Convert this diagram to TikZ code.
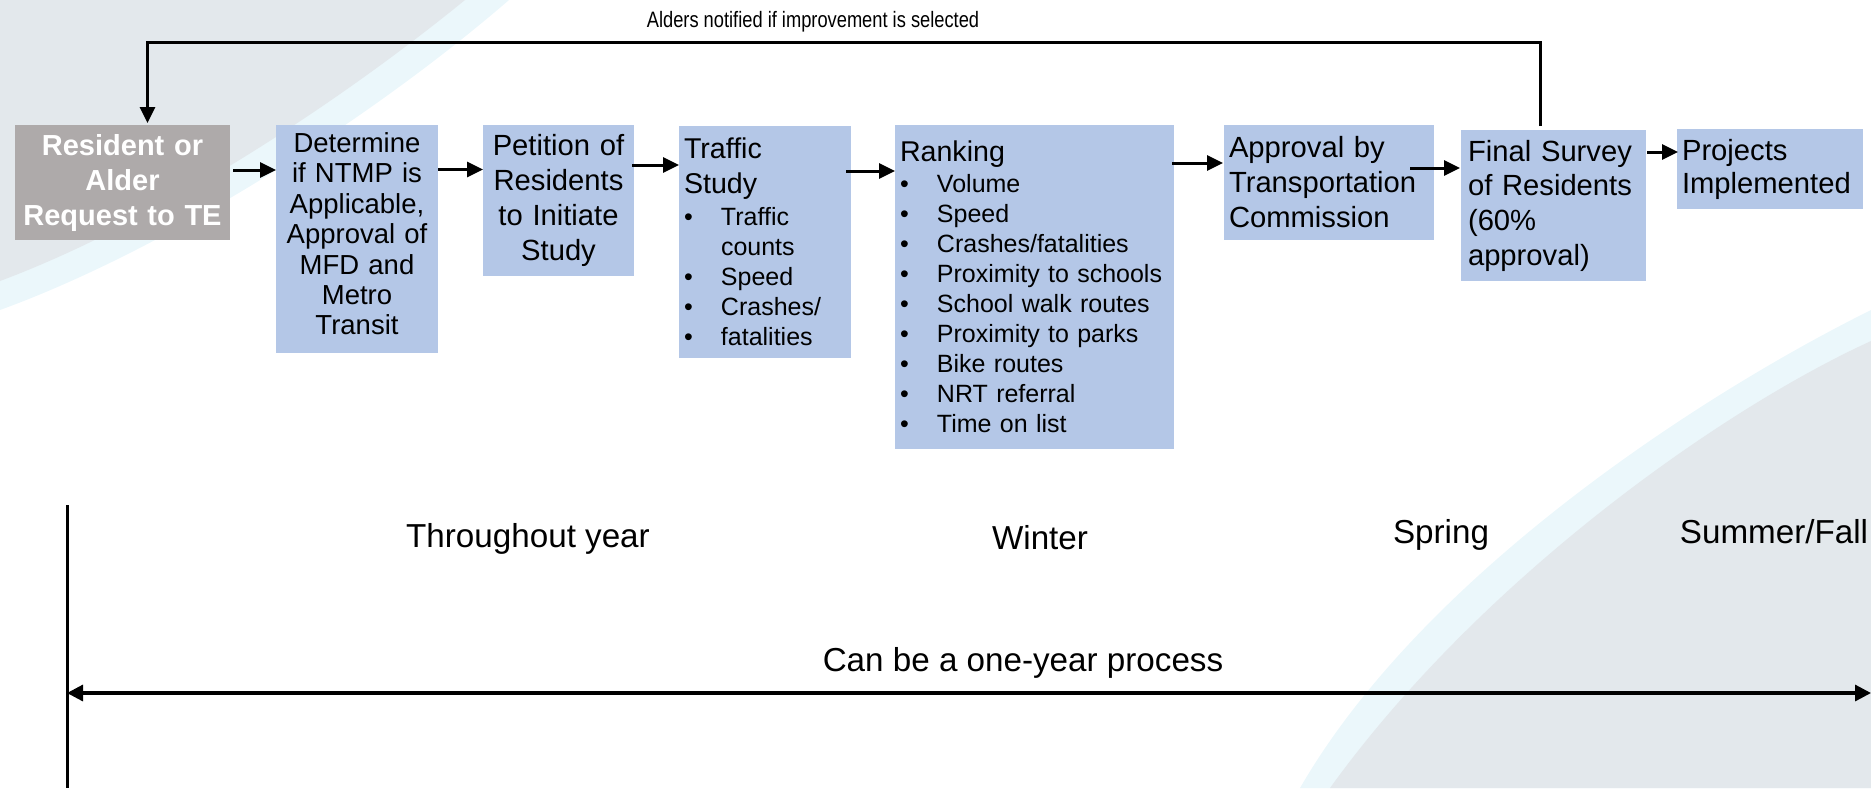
\documentclass[tikz,border=0pt]{standalone}
\usepackage{fontspec}
\setmainfont{Liberation Sans}
\usepackage{graphicx}
\usetikzlibrary{arrows.meta,calc}
\definecolor{boxblue}{HTML}{B4C7E7}
\definecolor{boxgray}{HTML}{AEAAAA}
\definecolor{bggray}{HTML}{E3E8EC}
\definecolor{bgcyan}{HTML}{EBF7FB}
\newcommand\bul{\makebox[18.5pt][l]{\textbullet}}
\begin{document}
\begin{tikzpicture}[x=0.5pt,y=-0.5pt,
  stepbox/.style={fill=boxblue, draw=none, anchor=north west, inner xsep=2.5pt, inner ysep=1pt, outer sep=0pt},
  arr/.style={line width=1.5pt, -{Triangle[length=8pt,width=7.5pt]}},
  maintext/.style={font=\fontsize{14.6}{17.5}\selectfont},
  bullets/.style={font=\fontsize{12.5}{15}\selectfont},
  season/.style={font=\fontsize{16.6}{20}\selectfont, anchor=base, inner sep=0pt}]
\useasboundingbox (0,0) rectangle (1871,788);
% background swooshes
\begin{scope}
\clip (0,0) rectangle (1871,788);
\fill[bgcyan] (0,0) -- (509,0) .. controls (370,120) and (165,250) .. (0,310) -- cycle;
\fill[bggray] (0,0) -- (465,0) .. controls (330,110) and (150,225) .. (0,281) -- cycle;
\fill[bgcyan] (1871,310) .. controls (1690,400) and (1420,580) .. (1300,788) -- (1871,788) -- cycle;
\fill[bggray] (1871,341) .. controls (1720,410) and (1480,580) .. (1330,788) -- (1871,788) -- cycle;
\end{scope}

% boxes
\node[stepbox, fill=boxgray, minimum width=107.5pt, minimum height=57.5pt, text width=102.5pt, align=center, text=white, font=\bfseries\fontsize{14.5}{17.5}\selectfont] (res) at (15,125) {Resident or\\Alder\\Request to TE};
\node[stepbox, minimum width=81pt, minimum height=114pt, text width=76pt, align=center, font=\fontsize{13.75}{15.2}\selectfont] (det) at (276,125) {Determine\\if NTMP is\\Applicable,\\Approval of\\MFD and\\Metro\\Transit\\[-10pt]\mbox{}};
\node[stepbox, maintext, minimum width=75.5pt, minimum height=75.5pt, text width=70.5pt, align=center] (pet) at (483,125) {Petition of\\Residents\\to Initiate\\Study};
\node[stepbox, bullets, minimum width=86pt, minimum height=116pt, text width=81pt, align=left] (trf) at (679,126) {{\fontsize{14.3}{15}\selectfont Traffic}\\[2.5pt]{\fontsize{14.3}{15}\selectfont Study}\\[1pt]\bul Traffic\\\hspace*{18.5pt}counts\\\bul Speed\\\bul Crashes/\\\bul fatalities};
\node[stepbox, bullets, minimum width=139.5pt, minimum height=162pt, text width=134.5pt, align=left] (rnk) at (895,125) {{\fontsize{14.3}{15}\selectfont Ranking}\\[0.5pt]\bul Volume\\\bul Speed\\\bul Crashes/fatalities\\\bul Proximity to schools\\\bul School walk routes\\\bul Proximity to parks\\\bul Bike routes\\\bul NRT referral\\\bul Time on list};
\node[stepbox, maintext, minimum width=105pt, minimum height=57.5pt, text width=100pt, align=left] (apr) at (1224,125) {Approval by\\Transportation\\Commission};
\node[stepbox, font=\fontsize{14.6}{17.35}\selectfont, inner xsep=3.5pt, minimum width=92.5pt, minimum height=75.5pt, text width=85.5pt, align=left] (fin) at (1461,130) {Final Survey\\of Residents\\(60\%\\approval)};
\node[stepbox, font=\fontsize{14.6}{16.5}\selectfont, minimum width=93pt, minimum height=40pt, text width=88pt, align=left] (prj) at (1677,129) {Projects\\Implemented};

% flow arrows
\draw[arr] ($(res.east |- 0,170)+(3,0)$) -- (det.west |- 0,170);
\draw[arr] (det.east |- 0,169.5) -- (pet.west |- 0,169.5);
\draw[arr] ($(pet.east |- 0,165)+(-2,0)$) -- (trf.west |- 0,165);
\draw[arr] ($(trf.east |- 0,171)+(-5,0)$) -- (rnk.west |- 0,171);
\draw[arr] ($(rnk.east |- 0,163)+(-2,0)$) -- ($(apr.west |- 0,163)+(-1,0)$);
\draw[arr] ($(apr.east |- 0,168)+(-24,0)$) -- ($(fin.west |- 0,168)+(-1,0)$);
\draw[arr] ($(fin.east |- 0,152)+(1,0)$) -- ($(prj.west |- 0,152)+(1,0)$);

% feedback loop
\coordinate (fbR) at (1540,42);
\coordinate (fbL) at (147.5,42);
\draw[arr] ($(fin.north -| fbR)+(0,-4)$) -- (fbR) -- (fbL) -- ($(res.north -| fbL)+(0,-2)$);
\node[anchor=base, inner sep=0pt] (note) at (813,27) {\scalebox{0.82}[1]{\fontsize{11.15}{13}\selectfont Alders notified if improvement is selected}};

% timeline
\coordinate (tlTop) at (67,505);
\coordinate (tlBot) at (67,788);
\coordinate (tlL) at (67,693);
\coordinate (tlR) at (1871,693);
\draw[line width=1.5pt] (tlTop) -- (tlBot);
\draw[line width=1.6pt, {Triangle[length=8pt,width=8pt]}-{Triangle[length=8pt,width=8pt]}] (tlL) -- (tlR);
\node[season] (thr) at (528,547) {Throughout year};
\node[season] (win) at (1040,549) {Winter};
\node[season] (spr) at (1441,543) {Spring};
\node[season] (sum) at (1774,543) {Summer/Fall};
\node[season] (one) at (1023,671) {Can be a one-year process};
\end{tikzpicture}
\end{document}
